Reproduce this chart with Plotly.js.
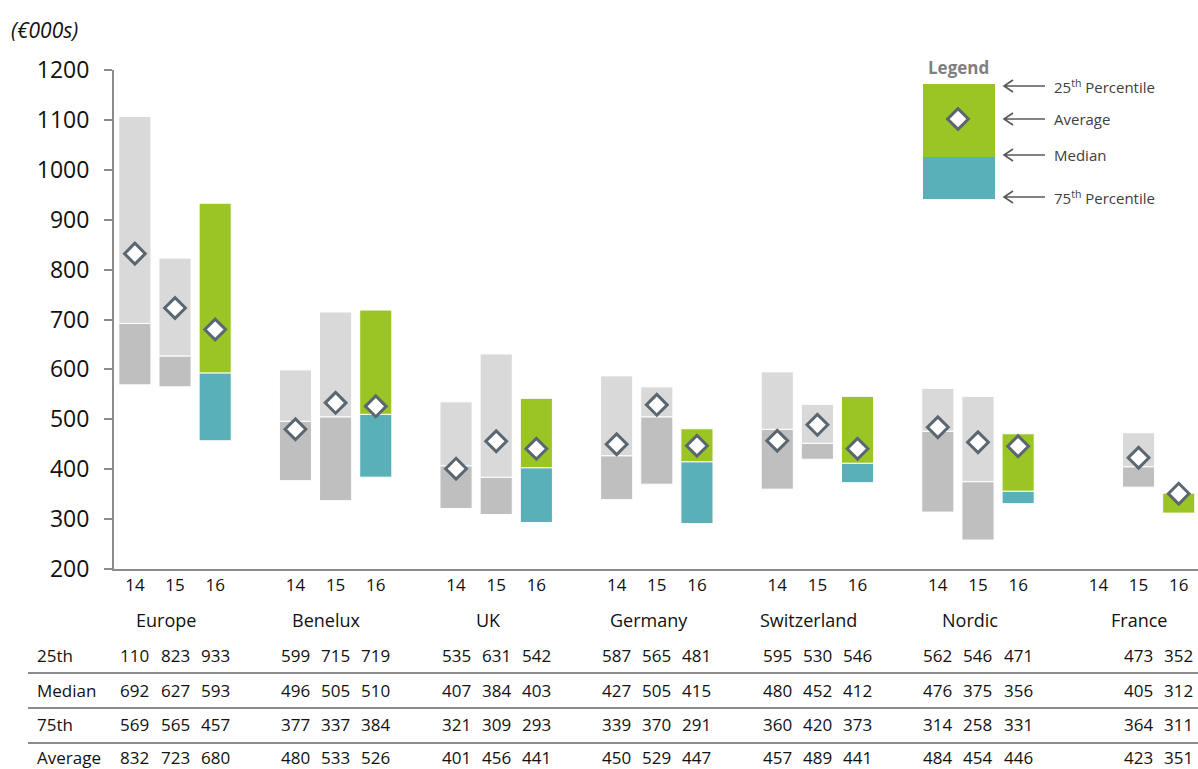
<!DOCTYPE html>
<html>
<head>
<meta charset="utf-8">
<script src="https://cdn.plot.ly/plotly-3.0.1.min.js"></script>
<style>html,body{margin:0;padding:0;background:#fff;}#chart{width:1198px;height:769px;}</style>
</head>
<body>
<div id="chart"></div>
<script>
// ---- data (values in €000s) ----
const regions = ['Europe', 'Benelux', 'UK', 'Germany', 'Switzerland', 'Nordic', 'France'];
const years = ['14', '15', '16'];
const p25 = [[1107, 823, 933], [599, 715, 719], [535, 631, 542], [587, 565, 481], [595, 530, 546], [562, 546, 471], [null, 473, 352]];
const median = [[692, 627, 593], [496, 505, 510], [407, 384, 403], [427, 505, 415], [480, 452, 412], [476, 375, 356], [null, 405, 312]];
const p75 = [[569, 565, 457], [377, 337, 384], [321, 309, 293], [339, 370, 291], [360, 420, 373], [314, 258, 331], [null, 364, 311]];
const average = [[832, 723, 680], [480, 533, 526], [401, 456, 441], [450, 529, 447], [457, 489, 441], [484, 454, 446], [null, 423, 351]];
const rowLabels = ['25th', 'Median', '75th', 'Average'];
const rowData = [p25, median, p75, average];
const legendLabels = ['25<sup>th</sup> Percentile', 'Average', 'Median', '75<sup>th</sup> Percentile'];

// ---- styling / layout helpers ----
const FONT = 'Open Sans, DejaVu Sans, sans-serif';
const C_LIGHT = '#d9d9d9', C_DARK = '#bfbfbf', C_GREEN = '#9bc524', C_TEAL = '#5ab0b8';
const C_DIAMOND = '#5b6770';
const SLOT = 4; // 3 years + gap per region
const ML = 114, MT = 70, PW = 1084, PH = 499;
const PX = px => (px - ML) / PW;          // pixel -> paper x
const PY = py => (MT + PH - py) / PH;     // pixel -> paper y
const regionShift = [-0.22, -0.25, -0.2, -0.2, -0.22, -0.2, 0];

const pos = (g, j) => g * SLOT + j;

function barTrace(yearIdxs, lowArr, highArr, color) {
  const x = [], base = [], y = [];
  regions.forEach((r, g) => {
    yearIdxs.forEach(j => {
      const lo = lowArr[g][j], hi = highArr[g][j];
      if (lo == null || hi == null) return;
      x.push(pos(g, j)); base.push(lo); y.push(hi - lo);
    });
  });
  return {
    type: 'bar', x, y, base, width: 0.8,
    marker: { color, line: { color: '#ffffff', width: 1 } },
    hoverinfo: 'skip', showlegend: false
  };
}

const traces = [
  barTrace([0, 1], p75, median, C_DARK),
  barTrace([0, 1], median, p25, C_LIGHT),
  barTrace([2], p75, median, C_TEAL),
  barTrace([2], median, p25, C_GREEN)
];

// average diamonds
const ax = [], ay = [];
regions.forEach((r, g) => years.forEach((yr, j) => {
  if (average[g][j] != null) { ax.push(pos(g, j)); ay.push(average[g][j]); }
}));
const diamond = { symbol: 'diamond', size: 16, color: '#ffffff', line: { color: C_DIAMOND, width: 3 } };
traces.push({
  type: 'scatter', mode: 'markers', x: ax, y: ay, marker: diamond,
  hoverinfo: 'skip', showlegend: false, cliponaxis: false
});

// legend key diamond on an overlay axis in fractional coords
traces.push({
  type: 'scatter', mode: 'markers', x: [PX(958)], y: [PY(119)], xaxis: 'x2', yaxis: 'y2', marker: diamond,
  hoverinfo: 'skip', showlegend: false, cliponaxis: false
});

// tick positions
const tickvals = [], ticktext = [];
regions.forEach((r, g) => years.forEach((yr, j) => { tickvals.push(pos(g, j)); ticktext.push(yr); }));

// annotations
const TXT = '#111111';
const annotations = [];
annotations.push({
  xref: 'paper', yref: 'paper', x: PX(9), y: PY(30), xanchor: 'left', yanchor: 'middle',
  text: '<i>(€000s)</i>', showarrow: false, font: { family: FONT, size: 21, color: TXT }
});
// region names
regions.forEach((r, g) => annotations.push({
  xref: 'x', yref: 'paper', x: pos(g, 1) + regionShift[g], y: PY(620), xanchor: 'center', yanchor: 'middle',
  text: r, showarrow: false, font: { family: FONT, size: 18, color: TXT }
}));
// table rows
const rowPy = [655, 690, 725, 757];
const fmt = v => v == null ? '' : String(v).slice(0, 3); // source table column shows 3 characters
rowLabels.forEach((lab, i) => {
  annotations.push({
    xref: 'paper', yref: 'paper', x: PX(35), y: PY(rowPy[i]), xanchor: 'left', yanchor: 'middle',
    text: lab, showarrow: false, font: { family: FONT, size: 17, color: TXT }
  });
  regions.forEach((r, g) => years.forEach((yr, j) => {
    const t = fmt(rowData[i][g][j]);
    if (!t) return;
    annotations.push({
      xref: 'x', yref: 'paper', x: pos(g, j), y: PY(rowPy[i]), xanchor: 'center', yanchor: 'middle',
      text: t, showarrow: false, font: { family: FONT, size: 17, color: TXT }
    });
  }));
});
// legend title and labels
annotations.push({
  xref: 'paper', yref: 'paper', x: PX(958), y: PY(67), xanchor: 'center', yanchor: 'middle',
  text: '<b>Legend</b>', showarrow: false, font: { family: FONT, size: 17, color: '#7f7f7f' }
});
const legPy = [86, 119, 155, 197];
const shapes = [
  { type: 'rect', xref: 'paper', yref: 'paper', x0: PX(923), x1: PX(995), y0: PY(157), y1: PY(84), fillcolor: C_GREEN, line: { width: 0 }, layer: 'below' },
  { type: 'rect', xref: 'paper', yref: 'paper', x0: PX(923), x1: PX(995), y0: PY(199), y1: PY(157), fillcolor: C_TEAL, line: { width: 0 }, layer: 'below' }
];
legendLabels.forEach((t, i) => {
  const py = legPy[i];
  annotations.push({
    xref: 'paper', yref: 'paper', x: PX(1052), y: PY(py), xanchor: 'left', yanchor: 'middle',
    text: t, showarrow: false, font: { family: FONT, size: 15, color: '#404040' }
  });
  // arrow: shaft + open chevron head pointing left
  shapes.push({
    type: 'path', xref: 'paper', yref: 'paper',
    path: `M${PX(1045)},${PY(py)} L${PX(1004)},${PY(py)} M${PX(1013)},${PY(py - 6)} L${PX(1004)},${PY(py)} L${PX(1013)},${PY(py + 6)}`,
    line: { color: '#595959', width: 1.6 }
  });
});
// table rule lines
[673, 708, 743].forEach(py => shapes.push({
  type: 'line', xref: 'paper', yref: 'paper', x0: PX(28), x1: 1, y0: PY(py), y1: PY(py),
  line: { color: '#8c8c8c', width: 2 }
}));

const layout = {
  width: 1198, height: 769,
  margin: { l: ML, r: 1198 - ML - PW, t: MT, b: 769 - MT - PH, pad: 0 },
  paper_bgcolor: '#ffffff', plot_bgcolor: '#ffffff',
  barmode: 'overlay', showlegend: false,
  font: { family: FONT, color: TXT },
  xaxis: {
    range: [-0.52, 26.48], tickvals, ticktext, ticks: '', showgrid: false, zeroline: false,
    showline: true, linecolor: '#8c8c8c', linewidth: 2,
    tickfont: { family: FONT, size: 17, color: TXT }, fixedrange: true
  },
  yaxis: {
    range: [200, 1200], tickvals: [200, 300, 400, 500, 600, 700, 800, 900, 1000, 1100, 1200],
    ticks: 'outside', ticklen: 8, tickwidth: 2, tickcolor: '#8c8c8c', ticklabelstandoff: 10,
    showgrid: false, zeroline: false, showline: true, linecolor: '#8c8c8c', linewidth: 2,
    tickfont: { family: FONT, size: 23, color: TXT }, fixedrange: true
  },
  xaxis2: { overlaying: 'x', range: [0, 1], visible: false, fixedrange: true },
  yaxis2: { overlaying: 'y', range: [0, 1], visible: false, fixedrange: true },
  annotations, shapes
};

Plotly.newPlot('chart', traces, layout, { staticPlot: true, displayModeBar: false });
</script>
</body>
</html>
